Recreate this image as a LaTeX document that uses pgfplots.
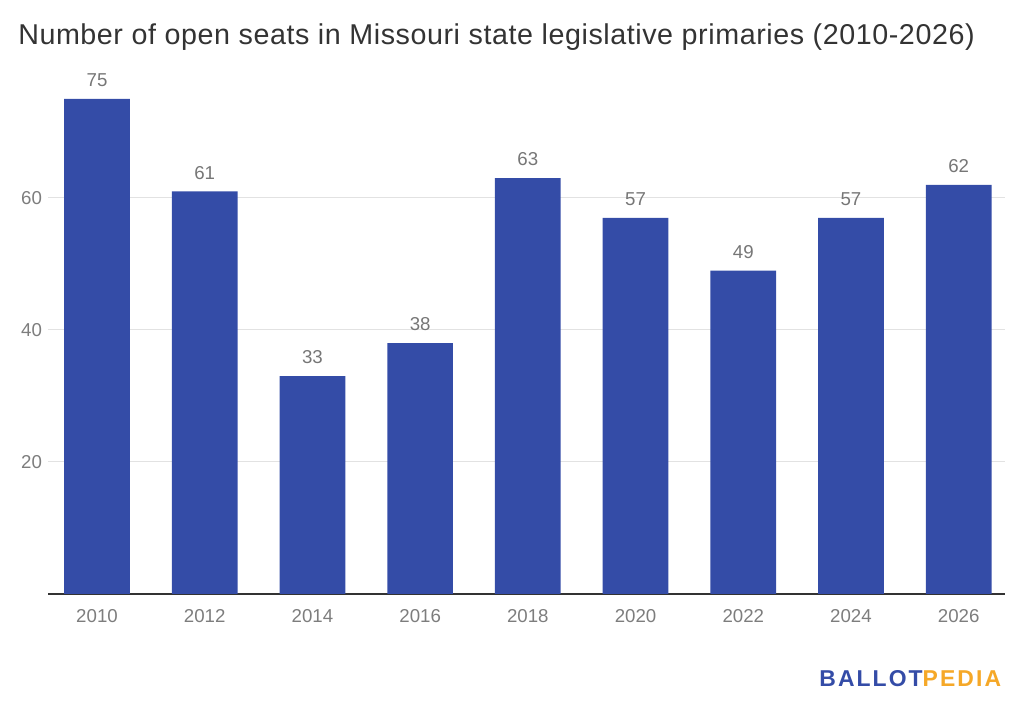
\documentclass[border=0pt]{standalone}
\usepackage{pgfplots}
\pgfplotsset{compat=1.18}
\usepackage{fontspec}
\setmainfont{Liberation Sans}
\newfontfamily\titlefont[LetterSpace=2]{Liberation Sans}
\newfontfamily\logofont[LetterSpace=9]{Liberation Sans}
\definecolor{barblue}{RGB}{52,76,167}
\definecolor{ticklab}{RGB}{125,125,125}
\definecolor{vallab}{RGB}{118,118,118}
\definecolor{gridc}{RGB}{226,226,226}
\definecolor{titlec}{RGB}{51,51,51}
\definecolor{logoblue}{RGB}{52,76,167}
\definecolor{logoorange}{RGB}{245,168,40}
\begin{document}
\begin{tikzpicture}
\path[use as bounding box] (0pt,0pt) rectangle (768pt,534pt);
\node[anchor=base west, inner sep=0pt, text=titlec, font=\titlefont\fontsize{21.5pt}{25pt}\selectfont] at (13.5pt,500.5pt) {Number of open seats in Missouri state legislative primaries (2010-2026)};
\node[anchor=base east, inner sep=0pt, font=\logofont\bfseries\fontsize{17.2pt}{20pt}\selectfont] at (751pt,18.75pt) {\textcolor{logoblue}{BALLOT}\textcolor{logoorange}{PEDIA}};
\begin{axis}[
  at={(36pt,88.5pt)}, anchor=south west,
  width=717.75pt, height=376.2pt, scale only axis,
  xmin=-0.455, xmax=8.43, ymin=0, ymax=76,
  axis x line*=bottom, axis y line*=left,
  axis line style={-},
  x axis line style={draw=titlec, line width=1.1pt},
  y axis line style={draw=none},
  ymajorgrids, grid style={draw=gridc, line width=0.75pt},
  major tick length=0pt,
  ytick={20,40,60},
  xtick=data,
  xticklabels={2010,2012,2014,2016,2018,2020,2022,2024,2026},
  /pgf/number format/assume math mode=true,
  tick label style={font=\fontsize{14pt}{16pt}\selectfont, text=ticklab},
  xticklabel style={yshift=-8pt},
  yticklabel style={xshift=-1pt},
  nodes near coords,
  every node near coord/.append style={font=\fontsize{14pt}{16pt}\selectfont, text=vallab, yshift=5.5pt},
  enlarge x limits=false,
]
\addplot[ybar, bar width=0.61, fill=barblue, draw=none] coordinates {
(0,75) (1,61) (2,33) (3,38) (4,63) (5,57) (6,49) (7,57) (8,62)
};
\end{axis}
\end{tikzpicture}
\end{document}
